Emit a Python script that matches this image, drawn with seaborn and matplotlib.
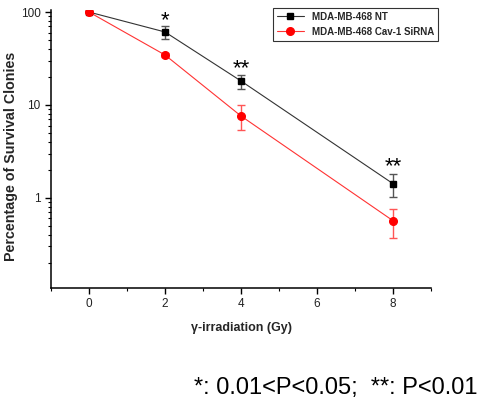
import matplotlib
matplotlib.use("Agg")
import matplotlib.pyplot as plt
import seaborn as sns
import pandas as pd
import numpy as np
from matplotlib.ticker import LogLocator, FixedLocator, NullFormatter

sns.set_style("ticks")
plt.rcParams['font.family'] = ['Liberation Sans', 'DejaVu Sans']

doses = [0, 2, 4, 8]
nt_vals = [100, 61, 18.1, 1.42]
nt_err_lo = [0, 10, 3.2, 0.41]
nt_err_hi = [0, 9, 3.0, 0.39]
si_vals = [100, 34.5, 7.6, 0.567]
si_err_lo = [0, 2, 2.2, 0.2]
si_err_hi = [0, 2, 2.4, 0.19]
series_names = ["MDA-MB-468 NT", "MDA-MB-468 Cav-1 SiRNA"]
stars = ["*", "**", "**"]
star_x = [2, 4, 8]
xticks = [0, 2, 4, 6, 8]
yticks = [1, 10, 100]

df = pd.DataFrame({
    "dose": doses * 2,
    "value": nt_vals + si_vals,
    "group": [series_names[0]] * 4 + [series_names[1]] * 4,
})

fig = plt.figure(figsize=(4.79, 4.03), dpi=100)
ax = fig.add_axes([0.1065, 0.2854, 0.7933, 0.6896])

palette = {series_names[0]: "#333333", series_names[1]: "#ff3333"}
ax.errorbar(doses, nt_vals, yerr=[nt_err_lo, nt_err_hi], fmt="none",
            ecolor="#555555", elinewidth=1, capsize=3, capthick=1, zorder=2)
ax.errorbar(doses, si_vals, yerr=[si_err_lo, si_err_hi], fmt="none",
            ecolor="#ff5555", elinewidth=1, capsize=3, capthick=1, zorder=2)

sns.lineplot(data=df, x="dose", y="value", hue="group",
             palette=palette, linewidth=0.8, ax=ax, legend=False, zorder=3)
ax.plot(doses, nt_vals, ls="none", marker="s", ms=5, color="black", zorder=4)
ax.plot(doses, si_vals, ls="none", marker="o", ms=5.5, color="#ff0000", zorder=4)

ax.set_yscale("log")
ax.set_xlim(-1, 9)
ax.set_ylim(0.107, 105)
ax.xaxis.set_major_locator(FixedLocator(xticks))
ax.xaxis.set_minor_locator(FixedLocator([-1, 1, 3, 5, 7, 9]))
ax.yaxis.set_major_locator(FixedLocator(yticks))
ax.yaxis.set_major_formatter(matplotlib.ticker.FuncFormatter(lambda v, p: f"{v:g}"))
ax.yaxis.set_minor_locator(LogLocator(base=10, subs=np.arange(2, 10)))
ax.yaxis.set_minor_formatter(NullFormatter())
ax.tick_params(axis="both", which="major", labelsize=8.5, length=4, width=1, color="black", labelcolor="#222222")
ax.tick_params(axis="both", which="minor", length=2.5, width=0.8, color="black")
for s in ["left", "bottom"]:
    ax.spines[s].set_linewidth(1.1)
    ax.spines[s].set_color("black")
sns.despine(ax=ax)

ax.set_xlabel("γ-irradiation (Gy)", fontsize=9, fontweight="bold", labelpad=8)
ax.set_ylabel("Percentage of Survival Clonies", fontsize=10.3, fontweight="bold")
ax.yaxis.set_label_coords(-0.088, 0.475)

star_y = [80, 24.5, 2.15]
for sx, sy, st in zip(star_x, star_y, stars):
    ax.text(sx, sy, st, ha="center", va="center", fontsize=16, color="black")

h1 = matplotlib.lines.Line2D([], [], color="#333333", lw=0.8, marker="s", ms=5,
                             mfc="black", mec="black")
h2 = matplotlib.lines.Line2D([], [], color="#ff3333", lw=0.8, marker="o", ms=5.5,
                             mfc="#ff0000", mec="#ff0000")
leg = fig.legend([h1, h2], series_names, loc="upper left",
                 bbox_to_anchor=(268 / 479, 1 - 3 / 403), prop={"weight": "bold", "size": 7},
                 frameon=True, fancybox=False, edgecolor="black", borderpad=0.4,
                 handlelength=2.8, labelspacing=0.5, numpoints=1)
leg.get_frame().set_linewidth(0.8)

fig.text(477 / 479, 1 - 388 / 403, "*: 0.01<P<0.05;  **: P<0.01", ha="right", va="center",
         fontsize=17, color="black")

fig.savefig("out.png", dpi=100)
